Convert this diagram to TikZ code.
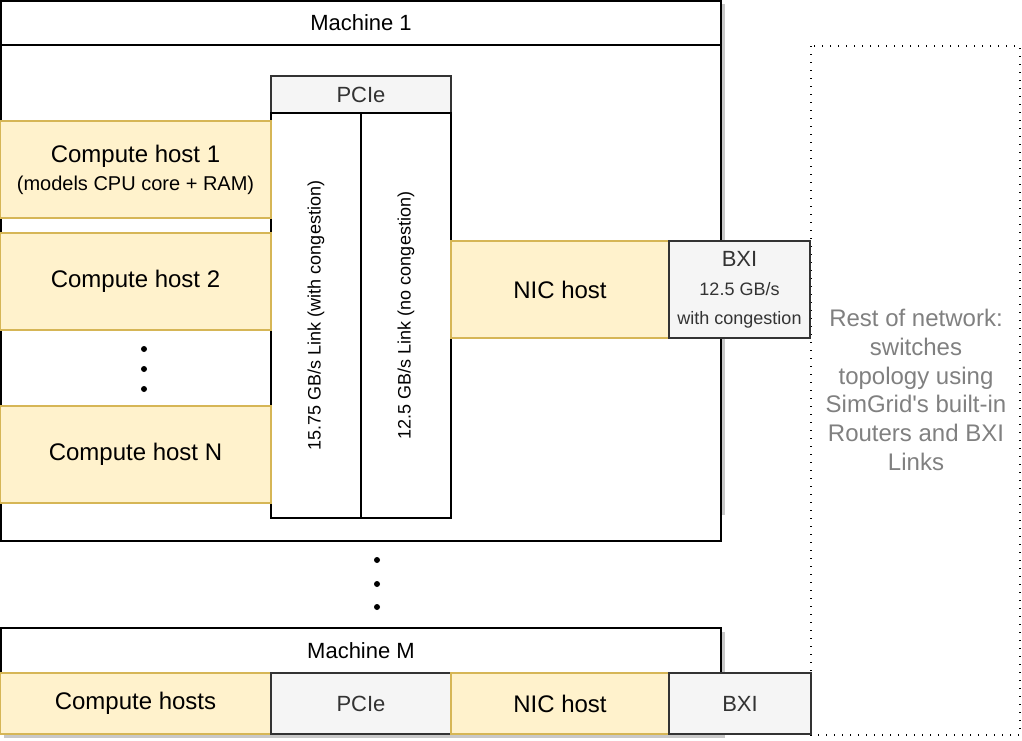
\documentclass[tikz,border=0pt]{standalone}
\usepackage{fontspec}
\setmainfont{Liberation Sans}
\definecolor{hostfill}{HTML}{FFF2CC}
\definecolor{hostline}{HTML}{D6B656}
\definecolor{boxfill}{HTML}{F5F5F5}
\definecolor{boxtext}{HTML}{333333}
\definecolor{restgray}{HTML}{808080}
\definecolor{shadowgray}{HTML}{C8C8C8}
\tikzset{
  cell/.style={anchor=north west,inner sep=0pt,outer sep=0pt,align=center},
  machinebox/.style={cell,draw=black,line width=0.9pt,fill=white,font=\fontsize{11}{13}\selectfont},
  hostbox/.style={cell,draw=hostline,line width=0.6pt,fill=hostfill,font=\fontsize{12}{14}\selectfont},
  linkbox/.style={cell,draw=boxtext,line width=0.9pt,fill=boxfill,text=boxtext,font=\fontsize{11}{13}\selectfont},
  lanebox/.style={cell,draw=black,line width=0.9pt,fill=white},
  dotmark/.style={circle,fill=black,inner sep=0pt,minimum size=3pt},
}
\begin{document}
\begin{tikzpicture}[x=0.5pt,y=-0.5pt]
\useasboundingbox (0,0) rectangle (1022,740);
%% shadows
\fill[shadowgray] (721,4) rectangle (725,515);
\fill[shadowgray] (721,632) rectangle (725,673);
\fill[shadowgray] (4,734) rectangle (725,738);
%% rest of network
\draw[line width=0.6pt,dash pattern=on 0.6pt off 3.4pt] (811,46) rectangle (1020,735);
\node[text=restgray,align=center,font=\fontsize{12}{14.4}\selectfont] (rest) at (916,390)
  {Rest of network:\\switches\\topology using\\SimGrid\textquotesingle s built-in\\Routers and BXI\\Links};
%% machine 1
\node[machinebox,minimum width=360pt,minimum height=270pt] (m1) at (1,1) {};
\node[machinebox,minimum width=360pt,minimum height=22pt] (m1head) at (1,1) {Machine 1};
\node[linkbox,minimum width=90pt,minimum height=18.5pt] (pcie) at (271,76) {PCIe};
\node[lanebox,minimum width=45pt,minimum height=202.5pt] (lane1) at (271,113) {};
\node[lanebox,minimum width=45pt,minimum height=202.5pt] (lane2) at (361,113) {};
\node[rotate=90,font=\fontsize{9}{11}\selectfont] (lane1text) at (lane1.center) {15.75 GB/s Link (with congestion)};
\node[rotate=90,font=\fontsize{9}{11}\selectfont] (lane2text) at (lane2.center) {12.5 GB/s Link (no congestion)};
\node[hostbox,minimum width=135.5pt,minimum height=48.5pt] (host1) at (0,121)
  {Compute host 1\\\fontsize{10}{12}\selectfont (models CPU core + RAM)};
\node[hostbox,minimum width=135.5pt,minimum height=48.5pt] (host2) at (0,233) {Compute host 2};
\node[hostbox,minimum width=135.5pt,minimum height=48.5pt] (hostn) at (0,406) {Compute host N};
\node[hostbox,minimum width=109pt,minimum height=48.5pt] (nic1) at (451,241) {NIC host};
\node[linkbox,minimum width=70.5pt,minimum height=48.5pt,font=\fontsize{9}{14.5}\selectfont] (bxi1) at (669,241)
  {\fontsize{11}{14.5}\selectfont BXI\\12.5 GB/s\\with congestion};
\foreach \i/\y in {1/349,2/369,3/389}
  \node[dotmark] (hdot\i) at (144,\y) {};
\foreach \i/\y in {1/560,2/584,3/607}
  \node[dotmark] (mdot\i) at (377,\y) {};
%% machine M
\node[machinebox,minimum width=360pt,minimum height=22.5pt] (mMhead) at (1,628) {Machine M};
\node[hostbox,minimum width=135.5pt,minimum height=30.5pt] (hostsM) at (0,673) {Compute hosts};
\node[linkbox,minimum width=90pt,minimum height=30.5pt] (pcieM) at (271,673) {PCIe};
\node[hostbox,minimum width=109pt,minimum height=30.5pt] (nicM) at (451,673) {NIC host};
\node[linkbox,minimum width=71pt,minimum height=30.5pt] (bxiM) at (669,673) {BXI};
%
\end{tikzpicture}
\end{document}
